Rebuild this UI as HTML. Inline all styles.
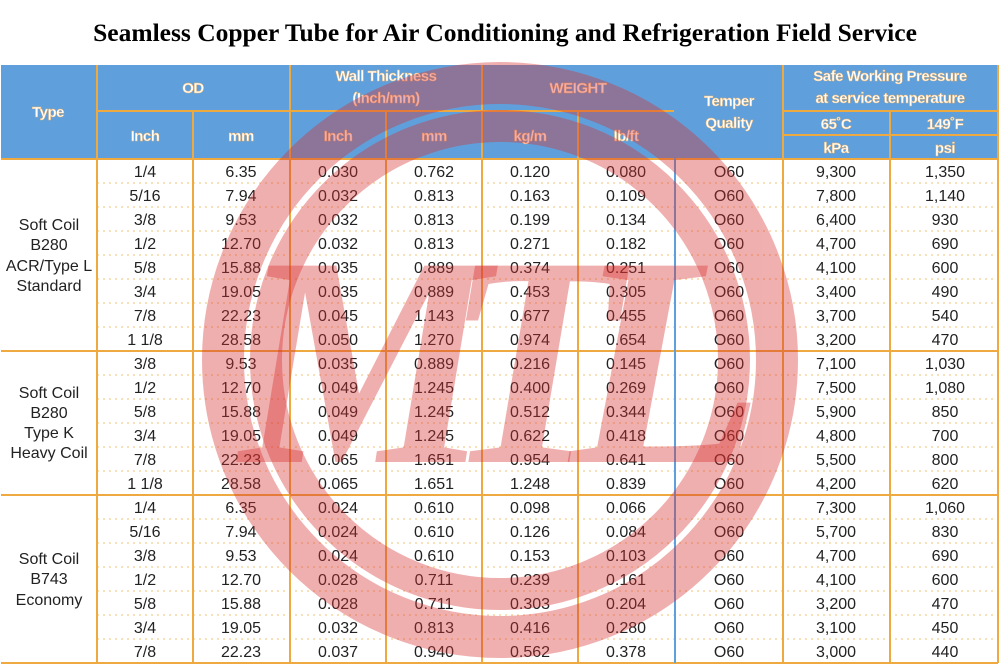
<!DOCTYPE html>
<html><head><meta charset="utf-8"><style>
html,body{margin:0;padding:0;background:#fff;width:1000px;height:666px;overflow:hidden}
svg{display:block}
.h{font-family:"Liberation Sans",sans-serif;font-weight:bold;font-size:15px;fill:#fff;stroke:#f0b060;stroke-width:0.4;text-anchor:middle;letter-spacing:-0.5px}
.b{font-family:"Liberation Sans",sans-serif;font-size:16px;fill:#222;text-anchor:middle}
.w{font-family:"Liberation Serif",serif;font-style:italic;font-weight:bold;font-size:300px;fill:#d83030;opacity:0.38}
</style></head><body>
<svg width="1000" height="666" viewBox="0 0 1000 666" xmlns="http://www.w3.org/2000/svg">
<text x="505" y="41" text-anchor="middle" font-family="Liberation Serif,serif" font-weight="bold" font-size="25.5" fill="#000">Seamless Copper Tube for Air Conditioning and Refrigeration Field Service</text>
<rect x="1" y="65" width="997" height="94" fill="#5fa0dc"/>
<g stroke="#f0c070" stroke-width="1" stroke-dasharray="2,4">
<path d="M97 183H998M97 207H998M97 231H998M97 255H998M97 279H998M97 303H998M97 327H998M97 375H998M97 399H998M97 423H998M97 447H998M97 471H998M97 519H998M97 543H998M97 567H998M97 591H998M97 615H998M97 639H998"/>
</g>
<g stroke="#eeaa40" stroke-width="2" fill="none">
<path d="M97 65V663M193 111V663M290 65V663M386 111V663M482 65V663M578 111V663M783 65V663M890 111V663M998 65V663"/>
<path d="M97 111H675M783 111H998M783 135H998M1 159H998M1 351H998M1 495H998M1 663H998"/>
</g>
<path d="M675 65V663" stroke="#5fa0dc" stroke-width="2"/>
<text class="h" x="48" y="117">Type</text>
<text class="h" x="193" y="93">OD</text>
<text class="h" x="386" y="81">Wall Thickness</text>
<text class="h" x="386" y="103">(Inch/mm)</text>
<text class="h" x="578" y="93">WEIGHT</text>
<text class="h" x="729" y="106">Temper</text>
<text class="h" x="729" y="128">Quality</text>
<text class="h" x="890" y="81">Safe Working Pressure</text>
<text class="h" x="890" y="103">at service temperature</text>
<text class="h" x="836" y="129">65˚C</text>
<text class="h" x="945" y="129">149˚F</text>
<text class="h" x="836" y="153">kPa</text>
<text class="h" x="945" y="153">psi</text>
<text class="h" x="145" y="141">Inch</text>
<text class="h" x="241" y="141">mm</text>
<text class="h" x="338" y="141">Inch</text>
<text class="h" x="434" y="141">mm</text>
<text class="h" x="530" y="141">kg/m</text>
<text class="h" x="626" y="141">lb/ft</text>
<g>
<text class="b" x="49" y="230">Soft Coil</text><text class="b" x="49" y="250">B280</text><text class="b" x="49" y="271">ACR/Type L</text><text class="b" x="49" y="291">Standard</text>
<text class="b" x="49" y="398">Soft Coil</text><text class="b" x="49" y="418">B280</text><text class="b" x="49" y="438">Type K</text><text class="b" x="49" y="458">Heavy Coil</text>
<text class="b" x="49" y="564">Soft Coil</text><text class="b" x="49" y="584">B743</text><text class="b" x="49" y="605">Economy</text>
</g>
<g class="b">
<text x="145" y="177">1/4</text><text x="241" y="177">6.35</text><text x="338" y="177">0.030</text><text x="434" y="177">0.762</text><text x="530" y="177">0.120</text><text x="626" y="177">0.080</text><text x="729" y="177">O60</text><text x="836" y="177">9,300</text><text x="945" y="177">1,350</text>
<text x="145" y="201">5/16</text><text x="241" y="201">7.94</text><text x="338" y="201">0.032</text><text x="434" y="201">0.813</text><text x="530" y="201">0.163</text><text x="626" y="201">0.109</text><text x="729" y="201">O60</text><text x="836" y="201">7,800</text><text x="945" y="201">1,140</text>
<text x="145" y="225">3/8</text><text x="241" y="225">9.53</text><text x="338" y="225">0.032</text><text x="434" y="225">0.813</text><text x="530" y="225">0.199</text><text x="626" y="225">0.134</text><text x="729" y="225">O60</text><text x="836" y="225">6,400</text><text x="945" y="225">930</text>
<text x="145" y="249">1/2</text><text x="241" y="249">12.70</text><text x="338" y="249">0.032</text><text x="434" y="249">0.813</text><text x="530" y="249">0.271</text><text x="626" y="249">0.182</text><text x="729" y="249">O60</text><text x="836" y="249">4,700</text><text x="945" y="249">690</text>
<text x="145" y="273">5/8</text><text x="241" y="273">15.88</text><text x="338" y="273">0.035</text><text x="434" y="273">0.889</text><text x="530" y="273">0.374</text><text x="626" y="273">0.251</text><text x="729" y="273">O60</text><text x="836" y="273">4,100</text><text x="945" y="273">600</text>
<text x="145" y="297">3/4</text><text x="241" y="297">19.05</text><text x="338" y="297">0.035</text><text x="434" y="297">0.889</text><text x="530" y="297">0.453</text><text x="626" y="297">0.305</text><text x="729" y="297">O60</text><text x="836" y="297">3,400</text><text x="945" y="297">490</text>
<text x="145" y="321">7/8</text><text x="241" y="321">22.23</text><text x="338" y="321">0.045</text><text x="434" y="321">1.143</text><text x="530" y="321">0.677</text><text x="626" y="321">0.455</text><text x="729" y="321">O60</text><text x="836" y="321">3,700</text><text x="945" y="321">540</text>
<text x="145" y="345">1  1/8</text><text x="241" y="345">28.58</text><text x="338" y="345">0.050</text><text x="434" y="345">1.270</text><text x="530" y="345">0.974</text><text x="626" y="345">0.654</text><text x="729" y="345">O60</text><text x="836" y="345">3,200</text><text x="945" y="345">470</text>
<text x="145" y="369">3/8</text><text x="241" y="369">9.53</text><text x="338" y="369">0.035</text><text x="434" y="369">0.889</text><text x="530" y="369">0.216</text><text x="626" y="369">0.145</text><text x="729" y="369">O60</text><text x="836" y="369">7,100</text><text x="945" y="369">1,030</text>
<text x="145" y="393">1/2</text><text x="241" y="393">12.70</text><text x="338" y="393">0.049</text><text x="434" y="393">1.245</text><text x="530" y="393">0.400</text><text x="626" y="393">0.269</text><text x="729" y="393">O60</text><text x="836" y="393">7,500</text><text x="945" y="393">1,080</text>
<text x="145" y="417">5/8</text><text x="241" y="417">15.88</text><text x="338" y="417">0.049</text><text x="434" y="417">1.245</text><text x="530" y="417">0.512</text><text x="626" y="417">0.344</text><text x="729" y="417">O60</text><text x="836" y="417">5,900</text><text x="945" y="417">850</text>
<text x="145" y="441">3/4</text><text x="241" y="441">19.05</text><text x="338" y="441">0.049</text><text x="434" y="441">1.245</text><text x="530" y="441">0.622</text><text x="626" y="441">0.418</text><text x="729" y="441">O60</text><text x="836" y="441">4,800</text><text x="945" y="441">700</text>
<text x="145" y="465">7/8</text><text x="241" y="465">22.23</text><text x="338" y="465">0.065</text><text x="434" y="465">1.651</text><text x="530" y="465">0.954</text><text x="626" y="465">0.641</text><text x="729" y="465">O60</text><text x="836" y="465">5,500</text><text x="945" y="465">800</text>
<text x="145" y="489">1  1/8</text><text x="241" y="489">28.58</text><text x="338" y="489">0.065</text><text x="434" y="489">1.651</text><text x="530" y="489">1.248</text><text x="626" y="489">0.839</text><text x="729" y="489">O60</text><text x="836" y="489">4,200</text><text x="945" y="489">620</text>
<text x="145" y="513">1/4</text><text x="241" y="513">6.35</text><text x="338" y="513">0.024</text><text x="434" y="513">0.610</text><text x="530" y="513">0.098</text><text x="626" y="513">0.066</text><text x="729" y="513">O60</text><text x="836" y="513">7,300</text><text x="945" y="513">1,060</text>
<text x="145" y="537">5/16</text><text x="241" y="537">7.94</text><text x="338" y="537">0.024</text><text x="434" y="537">0.610</text><text x="530" y="537">0.126</text><text x="626" y="537">0.084</text><text x="729" y="537">O60</text><text x="836" y="537">5,700</text><text x="945" y="537">830</text>
<text x="145" y="561">3/8</text><text x="241" y="561">9.53</text><text x="338" y="561">0.024</text><text x="434" y="561">0.610</text><text x="530" y="561">0.153</text><text x="626" y="561">0.103</text><text x="729" y="561">O60</text><text x="836" y="561">4,700</text><text x="945" y="561">690</text>
<text x="145" y="585">1/2</text><text x="241" y="585">12.70</text><text x="338" y="585">0.028</text><text x="434" y="585">0.711</text><text x="530" y="585">0.239</text><text x="626" y="585">0.161</text><text x="729" y="585">O60</text><text x="836" y="585">4,100</text><text x="945" y="585">600</text>
<text x="145" y="609">5/8</text><text x="241" y="609">15.88</text><text x="338" y="609">0.028</text><text x="434" y="609">0.711</text><text x="530" y="609">0.303</text><text x="626" y="609">0.204</text><text x="729" y="609">O60</text><text x="836" y="609">3,200</text><text x="945" y="609">470</text>
<text x="145" y="633">3/4</text><text x="241" y="633">19.05</text><text x="338" y="633">0.032</text><text x="434" y="633">0.813</text><text x="530" y="633">0.416</text><text x="626" y="633">0.280</text><text x="729" y="633">O60</text><text x="836" y="633">3,100</text><text x="945" y="633">450</text>
<text x="145" y="657">7/8</text><text x="241" y="657">22.23</text><text x="338" y="657">0.037</text><text x="434" y="657">0.940</text><text x="530" y="657">0.562</text><text x="626" y="657">0.378</text><text x="729" y="657">O60</text><text x="836" y="657">3,000</text><text x="945" y="657">440</text>
</g>
<g opacity="0.38" fill="none" stroke="#d83030">
<circle cx="500" cy="360" r="277" stroke-width="42"/>
<circle cx="500" cy="360" r="234" stroke-width="32"/>
</g>
<text class="w" x="240" y="462" textLength="250" lengthAdjust="spacingAndGlyphs">M</text>
<text class="w" x="445" y="462" textLength="175" lengthAdjust="spacingAndGlyphs">T</text>
<text class="w" x="570" y="462" textLength="195" lengthAdjust="spacingAndGlyphs">L</text>
</svg>
</body></html>
